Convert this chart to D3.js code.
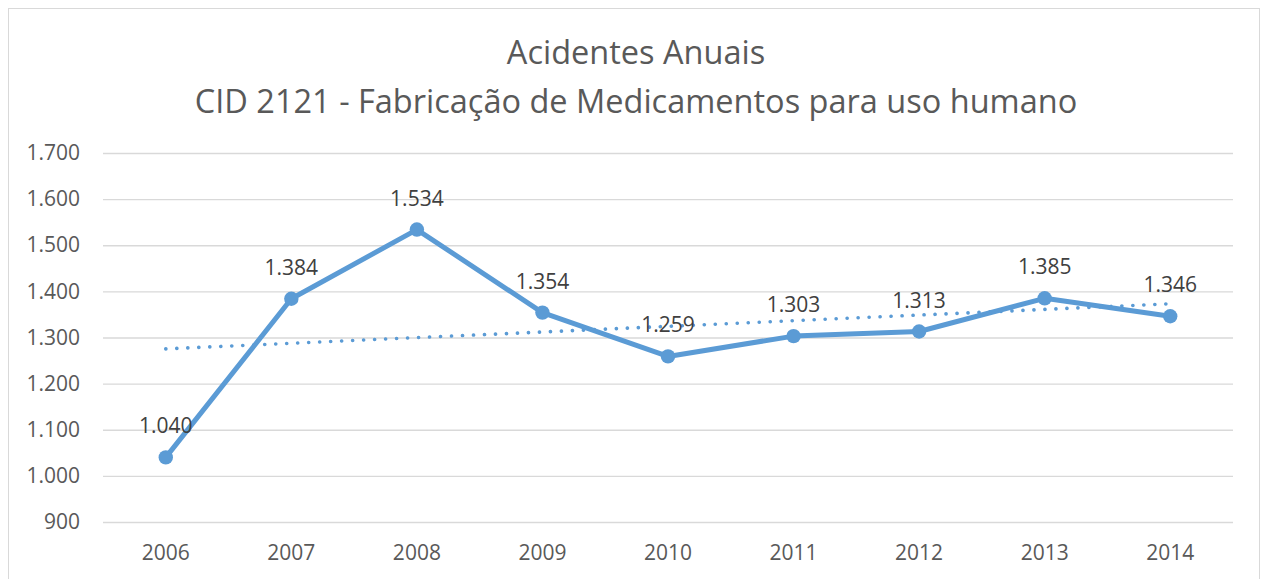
<!DOCTYPE html>
<html>
<head>
<meta charset="utf-8">
<script src="https://cdn.jsdelivr.net/npm/d3@7"></script>
<style>
body { margin: 0; background: #fff; }
text { font-family: "Open Sans", "Noto Sans", sans-serif; }
</style>
</head>
<body>
<svg></svg>
<script>
var years = ["2006", "2007", "2008", "2009", "2010", "2011", "2012", "2013", "2014"]
var acidentes = [1040, 1384, 1534, 1354, 1259, 1303, 1313, 1385, 1346]
var yTicks = [900, 1000, 1100, 1200, 1300, 1400, 1500, 1600, 1700]
var titleLines = ["Acidentes Anuais", "CID 2121 - Fabricação de Medicamentos para uso humano"]

var screen = {width: 1264, height: 579}
var margins = {top: 153, right: 31, bottom: 57, left: 103}
var width = screen.width - margins.left - margins.right
var height = screen.height - margins.top - margins.bottom

var svg = d3.select("svg")
    .attr("width", screen.width)
    .attr("height", screen.height)

// chart frame
svg.append("rect")
    .attr("x", 8.5).attr("y", 8.5)
    .attr("width", 1251).attr("height", 590)
    .attr("fill", "white")
    .attr("stroke", "#d9d9d9")

var xScale = d3.scaleBand()
    .domain(years)
    .range([0, width])

var yScale = d3.scaleLinear()
    .domain([900, 1700])
    .range([height, 0])

var fmt = function (v) { return d3.format(",")(v).replace(/,/g, ".") }

var graph = svg.append("g")
    .attr("transform", "translate(" + margins.left + "," + margins.top + ")")

// gridlines + y labels
var yAxis = d3.axisLeft(yScale)
    .tickValues(yTicks)
    .tickSize(-width)
    .tickPadding(23)
    .tickFormat(fmt)

graph.append("g")
    .attr("class", "yaxis")
    .call(yAxis)
    .call(function (g) {
        g.select(".domain").remove()
        g.selectAll(".tick line").attr("stroke", "#d9d9d9").attr("stroke-width", 1.3)
        g.selectAll(".tick text").attr("fill", "#595959").style("font-size", "21px")
    })

// x labels
var xAxis = d3.axisBottom(xScale).tickSize(0).tickPadding(23)
graph.append("g")
    .attr("transform", "translate(0," + height + ")")
    .call(xAxis)
    .call(function (g) {
        g.select(".domain").remove()
        g.selectAll(".tick text").attr("fill", "#595959").style("font-size", "21px")
    })

var cx = function (d, i) { return xScale(years[i]) + xScale.bandwidth() / 2 }

// linear trendline (least squares, like Excel)
var n = acidentes.length
var mx = d3.mean(d3.range(n))
var my = d3.mean(acidentes)
var slope = d3.sum(acidentes, function (v, i) { return (i - mx) * (v - my) }) /
    d3.sum(d3.range(n), function (i) { return (i - mx) * (i - mx) })
var trend = [0, n - 1].map(function (i) { return {i: i, v: my + slope * (i - mx)} })

graph.append("path")
    .datum(trend)
    .attr("fill", "none")
    .attr("stroke", "#5b9bd5")
    .attr("stroke-width", 3.6)
    .attr("stroke-linecap", "round")
    .attr("stroke-dasharray", "0.1 10.9")
    .attr("d", d3.line()
        .x(function (d) { return xScale(years[d.i]) + xScale.bandwidth() / 2 })
        .y(function (d) { return yScale(d.v) }))

// series line
graph.append("path")
    .datum(acidentes)
    .attr("fill", "none")
    .attr("stroke", "#5b9bd5")
    .attr("stroke-width", 5)
    .attr("stroke-linejoin", "round")
    .attr("d", d3.line().x(cx).y(function (d) { return yScale(d) }))

graph.selectAll("circle")
    .data(acidentes)
    .enter()
    .append("circle")
    .attr("cx", cx)
    .attr("cy", function (d) { return yScale(d) })
    .attr("r", 7.2)
    .attr("fill", "#5b9bd5")

// data labels
graph.selectAll(".lbl")
    .data(acidentes)
    .enter()
    .append("text")
    .attr("class", "lbl")
    .attr("x", cx)
    .attr("y", function (d) { return yScale(d) - 24 })
    .attr("text-anchor", "middle")
    .attr("fill", "#404040")
    .style("font-size", "21px")
    .text(fmt)

// title
svg.append("g").selectAll("text")
    .data(titleLines)
    .enter()
    .append("text")
    .attr("x", 636)
    .attr("y", function (d, i) { return 64 + i * 49 })
    .attr("text-anchor", "middle")
    .attr("fill", "#595959")
    .style("font-size", "32.5px")
    .text(function (d) { return d })
</script>
</body>
</html>
